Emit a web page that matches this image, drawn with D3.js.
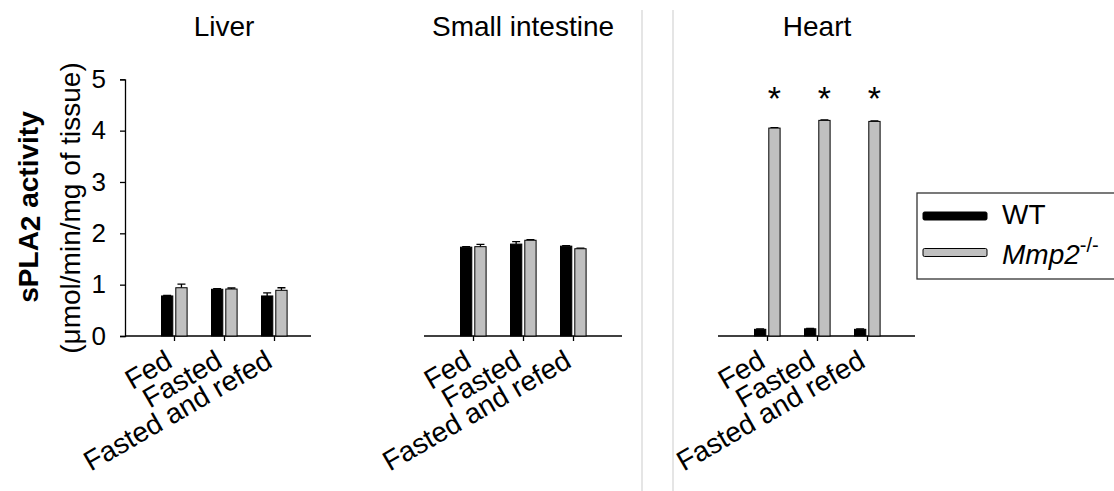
<!DOCTYPE html>
<html>
<head>
<meta charset="utf-8">
<script src="https://cdn.jsdelivr.net/npm/d3@7"></script>
<style>
  body { margin: 0; background: #fff; }
  text { font-family: "Liberation Sans", Arial, sans-serif; fill: #000; }
</style>
</head>
<body>
<div id="vis"></div>
<script>
// data
const tissues = ["Liver", "Small intestine", "Heart"];
const conditions = ["Fed", "Fasted", "Fasted and refed"];
const seriesNames = ["WT", "Mmp2"];
const wtMean = [[0.78, 0.91, 0.78], [1.73, 1.79, 1.75], [0.13, 0.14, 0.13]];
const wtErr  = [[0.01, 0.01, 0.06], [0.01, 0.05, 0.01], [0.01, 0.01, 0.01]];
const koMean = [[0.94, 0.915, 0.89], [1.74, 1.865, 1.70], [4.05, 4.20, 4.18]];
const koErr  = [[0.07, 0.02, 0.05], [0.045, 0.01, 0.01], [0.01, 0.01, 0.01]];
const starred = [[false, false, false], [false, false, false], [true, true, true]];
const yTicks = [0, 1, 2, 3, 4, 5];
const starLevel = 4.7;

// layout
const width = 1114, height = 491;
const panelLeft = [125, 424, 718];
const axisLen = [186, 198, 197];
const barW = 11.3;
const colors = { WT: "#000", Mmp2: "#c0c0c0" };

const svg = d3.select("#vis")
  .append("svg")
    .attr("width", width)
    .attr("height", height);

// y scale shared by all panels
const yScale = d3.scaleLinear()
  .domain([0, 5])
  .range([336, 79.3]);

// light separator lines between middle and heart panel
[642, 673].forEach(x => {
  svg.append("line")
    .attr("x1", x).attr("x2", x)
    .attr("y1", 10).attr("y2", height)
    .attr("stroke", "#dcdcdc")
    .attr("stroke-width", 1.5);
});

// y axis (only drawn once, on the liver panel)
const yAxis = svg.append("g")
  .attr("transform", `translate(${panelLeft[0]},0)`)
  .call(d3.axisLeft(yScale).tickValues(yTicks).tickSize(5).tickPadding(14).tickFormat(d3.format("d")));
yAxis.select(".domain").attr("stroke-width", 1.3);
yAxis.selectAll(".tick line").attr("stroke-width", 1.3);
yAxis.selectAll(".tick text")
  .attr("font-size", 26)
  .attr("font-family", "Liberation Sans, Arial, sans-serif");

// y axis titles
const yTitle = svg.append("text")
  .attr("transform", `translate(38,207) rotate(-90)`)
  .attr("text-anchor", "middle")
  .attr("font-size", 28)
  .attr("font-weight", "bold");
yTitle.append("tspan").text("sPLA");
yTitle.append("tspan").attr("baseline-shift", "-2").text("2");
yTitle.append("tspan").text(" activity");

svg.append("text")
  .attr("transform", `translate(80,208) rotate(-90)`)
  .attr("text-anchor", "middle")
  .attr("font-size", 28)
  .text("(μmol/min/mg of tissue)");

tissues.forEach((tissue, t) => {
  const left = panelLeft[t];
  const xScale = d3.scalePoint()
    .domain(conditions)
    .range([left + 49, left + 149]);

  const g = svg.append("g");

  // panel title
  g.append("text")
    .attr("x", left + 99)
    .attr("y", 36)
    .attr("text-anchor", "middle")
    .attr("font-size", 28)
    .text(tissue);

  // x axis line + ticks
  g.append("line")
    .attr("x1", left).attr("x2", left + axisLen[t])
    .attr("y1", yScale(0)).attr("y2", yScale(0))
    .attr("stroke", "#000")
    .attr("stroke-width", 1.3);
  const xAxis = g.append("g")
    .attr("transform", `translate(0,${yScale(0)})`)
    .call(d3.axisBottom(xScale).tickSize(5).tickFormat(""));
  xAxis.select(".domain").remove();
  xAxis.selectAll(".tick line").attr("stroke-width", 1.3);

  // rotated category labels
  g.selectAll(".xlab")
    .data(conditions)
    .join("text")
      .attr("class", "xlab")
      .attr("transform", d => `translate(${xScale(d)},366) rotate(-30)`)
      .attr("text-anchor", "end")
      .attr("font-size", 28)
      .text(d => d);

  const rows = conditions.map((c, i) => ({
    cond: c,
    wt: wtMean[t][i], wtE: wtErr[t][i],
    ko: koMean[t][i], koE: koErr[t][i],
    star: starred[t][i]
  }));

  const bars = [];
  rows.forEach(r => {
    bars.push({ key: "WT", x: xScale(r.cond) - 12.5, v: r.wt, e: r.wtE });
    bars.push({ key: "Mmp2", x: xScale(r.cond) + 1.8, v: r.ko, e: r.koE });
  });

  // error bars (upper only)
  g.selectAll(".err")
    .data(bars)
    .join("path")
      .attr("class", "err")
      .attr("d", d => {
        const cx = d.x + barW / 2;
        const y1 = yScale(d.v), y2 = yScale(d.v + d.e);
        return `M${cx},${y1}V${y2}M${cx - 4},${y2}H${cx + 4}`;
      })
      .attr("stroke", "#000")
      .attr("stroke-width", 1.3)
      .attr("fill", "none");

  g.selectAll(".bar")
    .data(bars)
    .join("rect")
      .attr("class", "bar")
      .attr("x", d => d.x)
      .attr("y", d => yScale(d.v))
      .attr("width", barW)
      .attr("height", d => yScale(0) - yScale(d.v))
      .attr("fill", d => colors[d.key])
      .attr("stroke", "#000")
      .attr("stroke-width", 1);

  // significance stars above the knockout bars
  g.selectAll(".star")
    .data(rows.filter(r => r.star))
    .join("text")
      .attr("class", "star")
      .attr("x", d => xScale(d.cond) + 1.8 + barW / 2)
      .attr("y", yScale(starLevel) + 15)
      .attr("text-anchor", "middle")
      .attr("font-size", 34)
      .text("*");
});

// legend
const legend = svg.append("g");
legend.append("rect")
  .attr("x", 917).attr("y", 193)
  .attr("width", 220).attr("height", 86)
  .attr("fill", "#fff")
  .attr("stroke", "#333")
  .attr("stroke-width", 1.3);

seriesNames.forEach((name, i) => {
  const yTop = 212 + i * 36.5;
  legend.append("rect")
    .attr("x", 923).attr("y", yTop)
    .attr("width", 64).attr("height", 8)
    .attr("rx", 1.5)
    .attr("fill", colors[name])
    .attr("stroke", "#000")
    .attr("stroke-width", 1);
  const label = legend.append("text")
    .attr("x", 1002)
    .attr("y", 224 + i * 40)
    .attr("font-size", 28);
  if (name === "WT") {
    label.text("WT");
  } else {
    label.append("tspan").attr("font-style", "italic").text("Mmp2");
    label.append("tspan").attr("font-size", 20).attr("dy", -12).text("-/-");
  }
});
</script>
</body>
</html>
